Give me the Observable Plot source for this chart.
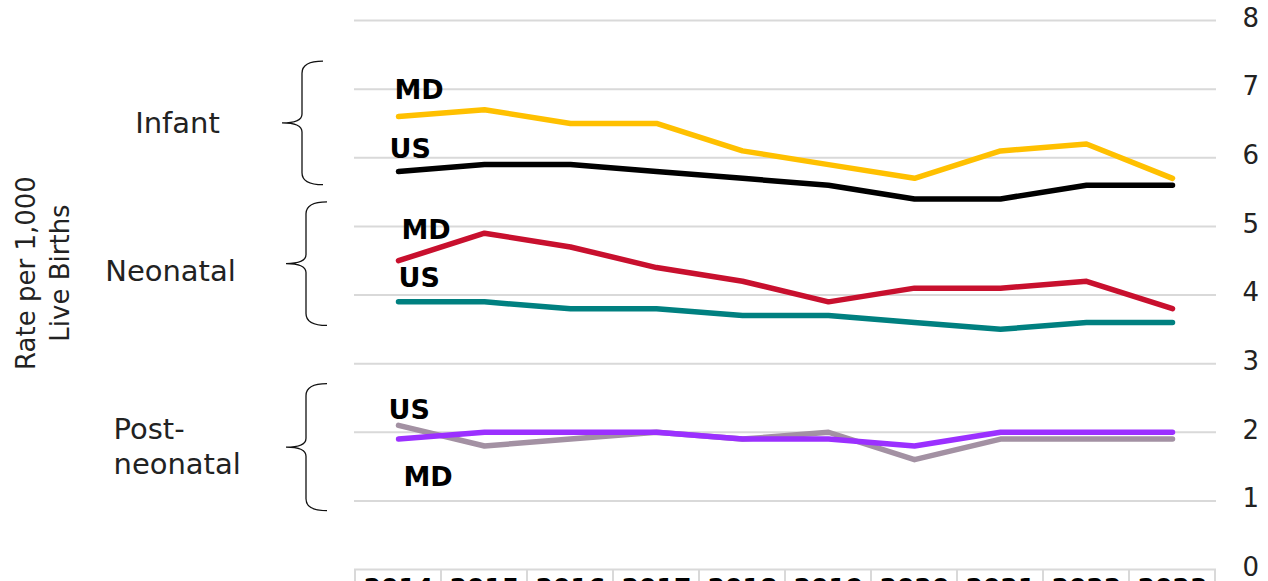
<!DOCTYPE html>
<html><head><meta charset="utf-8">
<script src="https://cdn.jsdelivr.net/npm/d3@7"></script>
<script src="https://cdn.jsdelivr.net/npm/@observablehq/plot@0.6"></script>
<style>html,body{margin:0;padding:0;overflow:hidden;background:#fff}</style>
</head><body><div id="chart"></div>
<script>
const years = [2014, 2015, 2016, 2017, 2018, 2019, 2020, 2021, 2022, 2023];
const yTicks = [0, 1, 2, 3, 4, 5, 6, 7, 8];
const infantMD    = [6.6, 6.7, 6.5, 6.5, 6.1, 5.9, 5.7, 6.1, 6.2, 5.7];
const infantUS    = [5.8, 5.9, 5.9, 5.8, 5.7, 5.6, 5.4, 5.4, 5.6, 5.6];
const neonatalMD  = [4.5, 4.9, 4.7, 4.4, 4.2, 3.9, 4.1, 4.1, 4.2, 3.8];
const neonatalUS  = [3.9, 3.9, 3.8, 3.8, 3.7, 3.7, 3.6, 3.5, 3.6, 3.6];
const postUS      = [2.1, 1.8, 1.9, 2.0, 1.9, 2.0, 1.6, 1.9, 1.9, 1.9];
const postMD      = [1.9, 2.0, 2.0, 2.0, 1.9, 1.9, 1.8, 2.0, 2.0, 2.0];
const groupNames  = ["Infant", "Neonatal", "Post-\nneonatal"];
const groupTop    = [7.4, 5.35, 2.7];
const groupBottom = [5.6, 3.55, 0.85];
const yTitle = "Rate per 1,000\nLive Births";

const FONT = "'DejaVu Sans', sans-serif";

// series definitions (style kept separate from values)
const seriesDefs = [
  {key: "Infant MD",   label: "MD", values: infantMD,   color: "#FFC000", ldx: -4,  ldy: -26},
  {key: "Infant US",   label: "US", values: infantUS,   color: "#000000", ldx: -9,  ldy: -22},
  {key: "Neonatal MD", label: "MD", values: neonatalMD, color: "#C8102E", ldx: 3,   ldy: -30},
  {key: "Neonatal US", label: "US", values: neonatalUS, color: "#008080", ldx: 0,   ldy: -24},
  {key: "Post US",     label: "US", values: postUS,     color: "#A391A3", ldx: -10, ldy: -15},
  {key: "Post MD",     label: "MD", values: postMD,     color: "#9B30FF", ldx: 5,   ldy: 38}
];
const rows = seriesDefs.flatMap(s => years.map((yr, i) => ({year: yr, value: s.values[i], series: s.key})));
const groups = groupNames.map((n, i) => ({name: n, top: groupTop[i], bottom: groupBottom[i], mid: (groupTop[i] + groupBottom[i]) / 2}));

const groupStyle = [
  {dx: -177, dy: -2, anchor: "middle"},
  {dx: -184, dy: 6, anchor: "middle"},
  {dx: -241, dy: -2, anchor: "start"}
];

// separators under the x axis and curly braces, drawn with the plot's scales
function decorations(index, scales, values, dims) {
  const g = d3.create("svg:g");
  const x = scales.x, y = scales.y;
  const step = x(years[1]) - x(years[0]);
  const bottom = dims.height - dims.marginBottom;
  const bounds = years.map(v => x(v) - step / 2).concat([x(years[years.length - 1]) + step / 2]);
  g.selectAll("line.sep").data(bounds).join("line")
    .attr("x1", d => d).attr("x2", d => d)
    .attr("y1", bottom).attr("y2", dims.height + 20)
    .attr("stroke", "#d9d9d9").attr("stroke-width", 2);
  const spineOff = [52, 48, 48];
  g.selectAll("path.brace").data(groups).join("path")
    .attr("fill", "none").attr("stroke", "#111").attr("stroke-width", 1.3)
    .attr("d", (d, i) => {
      const y0 = y(d.top), y1 = y(d.bottom), ym = (y0 + y1) / 2;
      const xs = dims.marginLeft - spineOff[i], xt = xs - 20, xh = xs + 21;
      return `M${xh},${y0} Q${xs},${y0} ${xs},${y0 + 12} L${xs},${ym - 9} Q${xs},${ym} ${xt},${ym}` +
             ` Q${xs},${ym} ${xs},${ym + 9} L${xs},${y1 - 12} Q${xs},${y1} ${xh},${y1}`;
    });
  return g.node();
}

const marks = [
  Plot.ruleY(yTicks, {stroke: "#d9d9d9", strokeWidth: 2}),
  decorations,
  ...seriesDefs.map(s => Plot.line(rows.filter(r => r.series === s.key), {
    x: "year", y: "value", stroke: s.color, strokeWidth: 5.5,
    strokeLinecap: "round", strokeLinejoin: "round"
  })),
  ...seriesDefs.map(s => Plot.text([rows.find(r => r.series === s.key)], {
    x: "year", y: "value", text: () => s.label, dx: s.ldx, dy: s.ldy,
    textAnchor: "start", fontWeight: "bold", fontSize: 27, fill: "#000"
  })),
  ...groups.map((gr, i) => Plot.text([gr], {
    y: "mid", text: "name", frameAnchor: "left", dx: groupStyle[i].dx, dy: groupStyle[i].dy,
    textAnchor: groupStyle[i].anchor, fontSize: 29, fill: "#222", lineHeight: 1.2
  })),
  Plot.text([yTitle], {
    text: d => d, frameAnchor: "left", dx: -313, dy: -22, rotate: -90,
    textAnchor: "middle", fontSize: 26, fill: "#222", lineHeight: 1.3
  }),
  Plot.axisY(yTicks, {anchor: "right", label: null, tickSize: 0, tickPadding: 26, dy: -2, fontSize: 26, fill: "#222", tickFormat: d => String(d)}),
  Plot.axisX(years, {anchor: "bottom", label: null, tickSize: 0, tickPadding: 9, fontSize: 25, fontWeight: "bold", fill: "#000", tickFormat: d => String(d)})
];

const chart = Plot.plot({
  width: 1268,
  height: 581,
  marginLeft: 354,
  marginRight: 52,
  marginTop: 20,
  marginBottom: 12,
  style: {fontFamily: FONT, background: "#fff", overflow: "visible"},
  x: {type: "point", domain: years, padding: 0.5, axis: null, label: null},
  y: {domain: [0, 8], axis: null, label: null},
  marks
});
document.getElementById("chart").appendChild(chart);
</script>
</body></html>
